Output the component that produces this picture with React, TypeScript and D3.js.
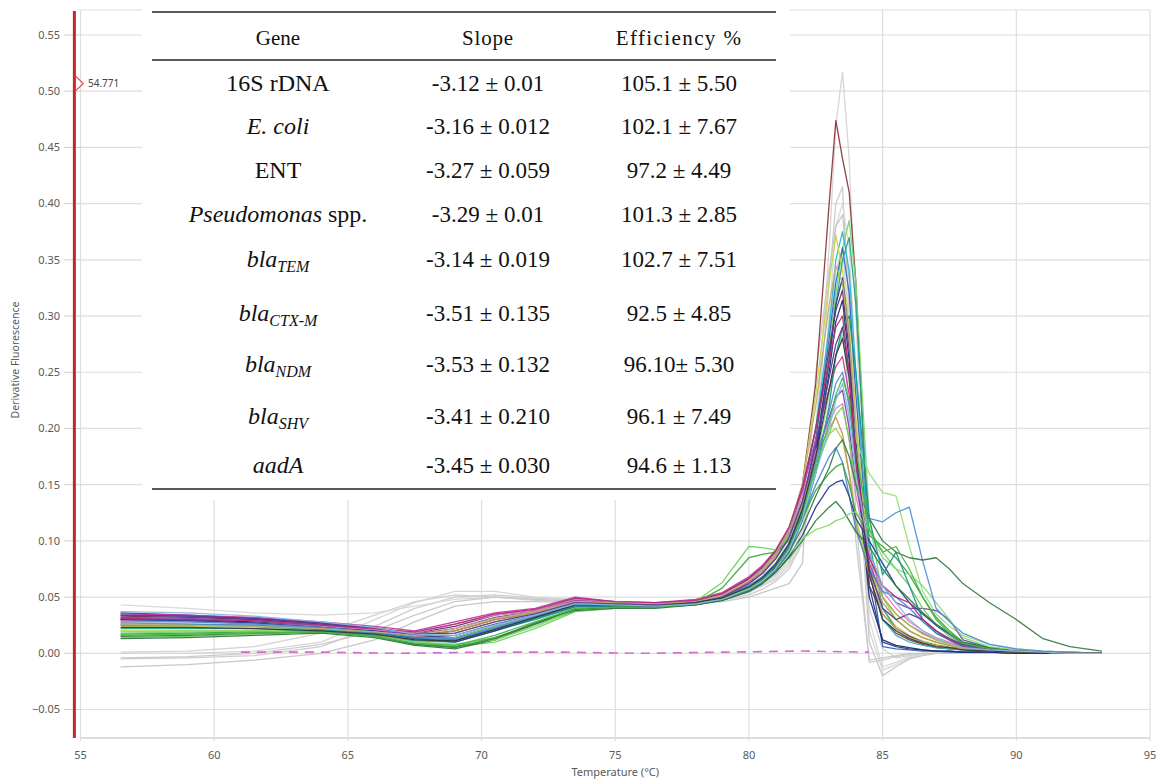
import React, { useEffect } from "react";
import * as d3 from "d3";

// Melt-curve temperatures (°C) shared by every trace
const TEMPS = [56.5, 59, 61.5, 64, 66, 67.5, 69, 70.5, 72, 73.5, 75, 76.5, 78, 79, 80, 80.5, 81, 81.5, 82, 82.5, 83, 83.25, 83.5, 83.75, 84, 84.5, 85, 85.5, 86, 86.5, 87, 87.5, 88, 89, 90, 91, 92, 93.2];

// Derivative fluorescence per well (-dF/dT)
const WELLS: { color: string; v: number[] }[] = [
  { color: "#d4d4d4", v: [0.000,0.000,0.002,0.010,0.030,0.045,0.055,0.055,0.050,0.048,0.046,0.045,0.046,0.050, 0.058,0.064,0.072,0.086,0.120,0.200, 0.360,0.470,0.517,0.440,0.300, 0.020,-0.015,-0.010,-0.004,-0.001,0,0,0,0,0,0,0,0] },
  { color: "#cacaca", v: [-0.005,-0.004,-0.002,0.006,0.024,0.040,0.050,0.052,0.049,0.047,0.045,0.044,0.045,0.049, 0.056,0.062,0.070,0.082,0.110,0.190, 0.330,0.400,0.415,0.300,0.120, -0.008,-0.006,-0.003,-0.001,0,0,0,0,0,0,0,0,0] },
  { color: "#d8d8d8", v: [0.043,0.040,0.036,0.034,0.036,0.042,0.048,0.050,0.048,0.046,0.045,0.044,0.045,0.048, 0.055,0.060,0.068,0.080,0.105,0.170, 0.300,0.380,0.400,0.360,0.250, 0.030,-0.012,-0.008,-0.003,-0.001,0,0,0,0,0,0,0,0] },
  { color: "#c4c4c4", v: [-0.012,-0.010,-0.006,0.000,0.012,0.028,0.042,0.046,0.046,0.045,0.044,0.043,0.044,0.046, 0.050,0.054,0.058,0.062,0.080,0.250, 0.340,0.380,0.390,0.330,0.200, 0.010,-0.020,-0.012,-0.005,-0.002,0,0,0,0,0,0,0,0] },
  { color: "#d0d0d0", v: [0.001,0.002,0.006,0.018,0.034,0.046,0.052,0.050,0.047,0.046,0.045,0.044,0.045,0.048, 0.054,0.060,0.066,0.078,0.100,0.180, 0.290,0.340,0.360,0.290,0.160, 0.040,0.004,-0.004,-0.002,0,0,0,0,0,0,0,0,0] },
  { color: "#c8c8c8", v: [-0.004,-0.003,0.000,0.008,0.020,0.034,0.046,0.050,0.048,0.046,0.045,0.044,0.044,0.047, 0.052,0.057,0.064,0.075,0.098,0.170, 0.270,0.320,0.330,0.200,0.100, -0.006,-0.004,-0.002,0,0,0,0,0,0,0,0,0,0] },

  { color: "#8c3b3b", v: [0.030,0.029,0.027,0.024,0.020,0.016,0.020,0.030,0.036,0.046,0.044,0.043,0.046,0.052, 0.064,0.074,0.088,0.108,0.150,0.240, 0.400,0.474,0.440,0.410,0.330, 0.070,0.030,0.018,0.012,0.008,0.005,0.004,0.003,0.002,0.001,0.001,0.001,0.000] },
  { color: "#7dd66a", v: [0.018,0.019,0.020,0.020,0.016,0.010,0.008,0.014,0.026,0.040,0.042,0.042,0.044,0.049, 0.058,0.066,0.078,0.096,0.130,0.190, 0.270,0.320,0.360,0.385,0.330, 0.120,0.050,0.030,0.020,0.014,0.010,0.007,0.005,0.003,0.002,0.001,0.001,0.000] },
  { color: "#2fb6d0", v: [0.030,0.029,0.027,0.023,0.019,0.014,0.014,0.024,0.034,0.044,0.043,0.042,0.045,0.050, 0.062,0.072,0.086,0.106,0.140,0.200, 0.290,0.350,0.375,0.340,0.250, 0.090,0.030,0.016,0.010,0.007,0.005,0.004,0.003,0.002,0.001,0.001,0.000,0.000] },
  { color: "#3266b8", v: [0.034,0.033,0.030,0.026,0.021,0.015,0.016,0.026,0.034,0.044,0.043,0.042,0.045,0.050, 0.060,0.068,0.080,0.098,0.130,0.190, 0.280,0.330,0.361,0.320,0.230, 0.080,0.006,0.004,0.003,0.002,0.002,0.001,0.001,0.001,0.000,0.000,0.000,0.000] },
  { color: "#c9d34a", v: [0.024,0.024,0.023,0.021,0.018,0.014,0.018,0.028,0.036,0.045,0.044,0.043,0.046,0.052, 0.066,0.076,0.090,0.112,0.150,0.230, 0.330,0.372,0.340,0.290,0.210, 0.080,0.040,0.024,0.016,0.011,0.008,0.006,0.004,0.002,0.001,0.001,0.000,0.000] },
  { color: "#22a38c", v: [0.022,0.022,0.022,0.020,0.016,0.011,0.010,0.020,0.030,0.041,0.042,0.041,0.044,0.048, 0.057,0.065,0.076,0.094,0.125,0.180, 0.260,0.310,0.350,0.370,0.310, 0.100,0.040,0.022,0.015,0.010,0.007,0.005,0.004,0.002,0.001,0.001,0.000,0.000] },
  { color: "#2b3a8c", v: [0.036,0.034,0.031,0.027,0.022,0.016,0.014,0.024,0.033,0.043,0.043,0.042,0.044,0.049, 0.058,0.066,0.078,0.096,0.126,0.180, 0.260,0.310,0.334,0.280,0.190, 0.060,0.010,0.006,0.004,0.003,0.002,0.002,0.001,0.001,0.000,0.000,0.000,0.000] },
  { color: "#6e2f6a", v: [0.033,0.032,0.030,0.026,0.022,0.018,0.024,0.034,0.038,0.048,0.045,0.044,0.047,0.053, 0.066,0.076,0.090,0.110,0.145,0.200, 0.270,0.305,0.323,0.270,0.180, 0.060,0.035,0.022,0.015,0.010,0.007,0.005,0.004,0.002,0.001,0.001,0.000,0.000] },
  { color: "#1f2f70", v: [0.031,0.030,0.028,0.024,0.020,0.014,0.012,0.022,0.032,0.043,0.042,0.042,0.044,0.049, 0.058,0.066,0.077,0.094,0.122,0.175, 0.250,0.295,0.314,0.260,0.170, 0.050,0.012,0.007,0.005,0.003,0.002,0.002,0.001,0.001,0.000,0.000,0.000,0.000] },
  { color: "#96e07e", v: [0.016,0.017,0.018,0.019,0.015,0.009,0.007,0.012,0.024,0.038,0.041,0.041,0.043,0.048, 0.056,0.064,0.075,0.092,0.120,0.170, 0.230,0.265,0.283,0.240,0.190, 0.160,0.143,0.140,0.095,0.055,0.035,0.024,0.016,0.008,0.004,0.002,0.001,0.000] },
  { color: "#c8389e", v: [0.035,0.034,0.032,0.028,0.024,0.020,0.028,0.036,0.040,0.050,0.046,0.045,0.048,0.054, 0.068,0.078,0.092,0.112,0.145,0.190, 0.235,0.255,0.264,0.230,0.170, 0.080,0.050,0.035,0.025,0.018,0.012,0.009,0.006,0.003,0.002,0.001,0.000,0.000] },
  { color: "#7b45a8", v: [0.032,0.031,0.029,0.025,0.021,0.017,0.022,0.032,0.037,0.047,0.045,0.044,0.046,0.051, 0.063,0.072,0.085,0.104,0.135,0.175, 0.210,0.228,0.234,0.200,0.150, 0.090,0.060,0.045,0.040,0.040,0.038,0.030,0.012,0.005,0.002,0.001,0.000,0.000] },
  { color: "#e27cc6", v: [0.029,0.028,0.027,0.024,0.021,0.018,0.026,0.034,0.038,0.048,0.046,0.044,0.047,0.052, 0.064,0.074,0.088,0.108,0.140,0.180, 0.205,0.218,0.222,0.190,0.140, 0.085,0.055,0.040,0.028,0.020,0.014,0.010,0.006,0.003,0.002,0.001,0.000,0.000] },
  { color: "#6fd35c", v: [0.014,0.015,0.017,0.019,0.015,0.009,0.006,0.010,0.022,0.037,0.040,0.041,0.046,0.063, 0.095,0.094,0.092,0.105,0.130,0.165, 0.195,0.212,0.219,0.190,0.150, 0.110,0.090,0.075,0.060,0.040,0.025,0.015,0.008,0.004,0.002,0.001,0.000,0.000] },
  { color: "#a8cf3c", v: [0.020,0.020,0.020,0.019,0.016,0.012,0.014,0.024,0.033,0.043,0.043,0.042,0.045,0.050, 0.062,0.072,0.086,0.104,0.135,0.170, 0.195,0.200,0.190,0.160,0.120, 0.075,0.050,0.035,0.025,0.017,0.012,0.008,0.005,0.003,0.002,0.001,0.000,0.000] },
  { color: "#c09060", v: [0.027,0.026,0.025,0.022,0.019,0.015,0.020,0.030,0.036,0.046,0.044,0.043,0.046,0.051, 0.062,0.071,0.084,0.102,0.132,0.175, 0.200,0.210,0.195,0.160,0.115, 0.070,0.045,0.030,0.020,0.014,0.010,0.007,0.005,0.003,0.002,0.001,0.000,0.000] },
  { color: "#4a86d0", v: [0.026,0.026,0.025,0.022,0.018,0.013,0.012,0.022,0.032,0.043,0.042,0.042,0.044,0.048, 0.058,0.066,0.078,0.094,0.120,0.150, 0.175,0.183,0.170,0.140,0.110, 0.075,0.055,0.050,0.040,0.028,0.018,0.012,0.006,0.003,0.002,0.001,0.000,0.000] },
  { color: "#3aa83a", v: [0.017,0.018,0.019,0.020,0.016,0.008,0.006,0.014,0.026,0.039,0.041,0.041,0.045,0.058, 0.085,0.088,0.090,0.100,0.120,0.145, 0.160,0.166,0.169,0.150,0.125, 0.105,0.095,0.085,0.070,0.050,0.032,0.020,0.010,0.005,0.002,0.001,0.000,0.000] },
  { color: "#283c96", v: [0.030,0.029,0.027,0.023,0.019,0.013,0.010,0.020,0.031,0.042,0.042,0.041,0.043,0.047, 0.055,0.062,0.072,0.086,0.105,0.130, 0.148,0.152,0.154,0.140,0.120, 0.100,0.080,0.060,0.045,0.035,0.025,0.017,0.009,0.004,0.002,0.001,0.000,0.000] },
  { color: "#2d7d3c", v: [0.013,0.014,0.016,0.018,0.014,0.007,0.004,0.012,0.026,0.038,0.040,0.040,0.043,0.047, 0.055,0.062,0.072,0.085,0.100,0.118, 0.130,0.135,0.128,0.118,0.108, 0.095,0.075,0.060,0.048,0.036,0.026,0.018,0.010,0.005,0.002,0.001,0.000,0.000] },
  { color: "#8ad878", v: [0.019,0.020,0.020,0.019,0.015,0.010,0.008,0.012,0.024,0.039,0.041,0.041,0.044,0.049, 0.057,0.064,0.074,0.088,0.102,0.110, 0.114,0.118,0.120,0.124,0.126, 0.110,0.085,0.075,0.070,0.060,0.045,0.030,0.014,0.006,0.003,0.001,0.000,0.000] },
  { color: "#17958c", v: [0.025,0.025,0.024,0.021,0.017,0.012,0.011,0.021,0.031,0.042,0.042,0.041,0.044,0.048, 0.056,0.064,0.074,0.090,0.118,0.160, 0.220,0.265,0.290,0.300,0.250, 0.120,0.070,0.090,0.060,0.030,0.018,0.012,0.007,0.003,0.002,0.001,0.000,0.000] },
  { color: "#4f8fd8", v: [0.028,0.028,0.026,0.023,0.019,0.014,0.013,0.023,0.033,0.043,0.043,0.042,0.045,0.049, 0.060,0.068,0.080,0.098,0.128,0.170, 0.215,0.240,0.250,0.220,0.170, 0.120,0.117,0.125,0.130,0.082,0.040,0.028,0.018,0.008,0.004,0.002,0.001,0.000] },
  { color: "#3b7d45", v: [0.015,0.016,0.018,0.019,0.015,0.008,0.005,0.013,0.027,0.039,0.041,0.041,0.044,0.048, 0.056,0.063,0.074,0.090,0.112,0.140, 0.165,0.182,0.190,0.175,0.150, 0.120,0.100,0.090,0.085,0.083,0.085,0.075,0.062,0.045,0.030,0.013,0.006,0.002] },
  { color: "#bdb07a", v: [0.026,0.025,0.024,0.022,0.019,0.016,0.022,0.031,0.037,0.046,0.045,0.044,0.046,0.051, 0.065,0.075,0.089,0.110,0.150,0.220, 0.310,0.345,0.330,0.280,0.200, 0.070,0.035,0.022,0.014,0.010,0.007,0.005,0.004,0.002,0.001,0.001,0.000,0.000] },
  { color: "#5a3a9a", v: [0.034,0.033,0.031,0.027,0.023,0.017,0.018,0.028,0.035,0.045,0.044,0.043,0.045,0.050, 0.062,0.071,0.084,0.103,0.135,0.185, 0.245,0.275,0.290,0.250,0.180, 0.075,0.040,0.030,0.035,0.030,0.020,0.013,0.008,0.004,0.002,0.001,0.000,0.000] },
  { color: "#48b848", v: [0.016,0.017,0.018,0.019,0.015,0.009,0.007,0.016,0.028,0.040,0.041,0.041,0.044,0.049, 0.058,0.066,0.078,0.096,0.125,0.165, 0.205,0.230,0.245,0.225,0.180, 0.110,0.090,0.095,0.075,0.050,0.030,0.018,0.009,0.004,0.002,0.001,0.000,0.000] },
  { color: "#3a3a3a", v: [0.023,0.023,0.022,0.020,0.017,0.012,0.011,0.021,0.032,0.043,0.043,0.042,0.045,0.049, 0.059,0.067,0.079,0.097,0.128,0.175, 0.235,0.265,0.280,0.245,0.175, 0.070,0.030,0.020,0.013,0.009,0.006,0.005,0.003,0.002,0.001,0.001,0.000,0.000] },
  { color: "#b0307a", v: [0.031,0.030,0.029,0.025,0.022,0.019,0.026,0.035,0.039,0.049,0.046,0.045,0.047,0.053, 0.067,0.077,0.091,0.112,0.148,0.200, 0.260,0.290,0.300,0.250,0.170, 0.085,0.060,0.050,0.045,0.030,0.020,0.012,0.006,0.003,0.002,0.001,0.000,0.000] },
  { color: "#86b8e4", v: [0.037,0.036,0.033,0.028,0.023,0.017,0.016,0.025,0.034,0.044,0.043,0.042,0.044,0.048, 0.057,0.064,0.075,0.092,0.120,0.160, 0.200,0.225,0.240,0.210,0.160, 0.090,0.060,0.045,0.030,0.020,0.013,0.009,0.005,0.003,0.002,0.001,0.000,0.000] },
];

// No-template control trace
const NTC_TEMPS = [61, 64, 67, 70, 73, 76, 79, 82, 84.5];
const NTC_VALUES = [0.001, 0.001, 0.000, 0.001, 0.001, 0.000, 0.001, 0.002, 0.001];

const X_TICKS = [55, 60, 65, 70, 75, 80, 85, 90, 95];
const Y_TICKS = [-0.05, 0, 0.05, 0.1, 0.15, 0.2, 0.25, 0.3, 0.35, 0.4, 0.45, 0.5, 0.55];
const MARKER_TEMP = 54.771;

// Standard-curve table
const GENE_NAMES: { main: string; sub?: string; italic: boolean; tail?: string }[] = [
  { main: "16S rDNA", italic: false },
  { main: "E. coli", italic: true },
  { main: "ENT", italic: false },
  { main: "Pseudomonas", italic: true, tail: " spp." },
  { main: "bla", sub: "TEM", italic: true },
  { main: "bla", sub: "CTX-M", italic: true },
  { main: "bla", sub: "NDM", italic: true },
  { main: "bla", sub: "SHV", italic: true },
  { main: "aadA", italic: true },
];
const SLOPES = ["-3.12 ± 0.01", "-3.16 ± 0.012", "-3.27 ± 0.059", "-3.29 ± 0.01", "-3.14 ± 0.019", "-3.51 ± 0.135", "-3.53 ± 0.132", "-3.41 ± 0.210", "-3.45 ± 0.030"];
const EFFICIENCIES = ["105.1 ± 5.50", "102.1 ± 7.67", "97.2 ± 4.49", "101.3 ± 2.85", "102.7 ± 7.51", "92.5 ± 4.85", "96.10± 5.30", "96.1 ± 7.49", "94.6 ± 1.13"];
const ROW_BASELINES = [91, 134, 178, 222, 267, 321, 372, 424, 473];

const W = 1158;
const H = 782;

export default function App() {
  useEffect(() => {
    document.body.style.margin = "0";
  }, []);

  const x = d3.scaleLinear().domain([55, 95]).range([80.5, 1150]);
  const y = d3.scaleLinear().domain([-0.05, 0.55]).range([709.5, 35]);
  const plotTop = 10;
  const plotBottom = 738;

  const line = d3
    .line<[number, number]>()
    .x((d) => x(d[0]))
    .y((d) => y(d[1]))
    .curve(d3.curveLinear);

  const axisFont = "'Noto Sans', 'DejaVu Sans', sans-serif";
  const serif = "'Liberation Serif', 'Times New Roman', serif";
  const grid = "#dedede";

  const colGene = 278;
  const colSlope = 488;
  const colEff = 679;

  return (
    <svg width={W} height={H} style={{ position: "absolute", left: 0, top: 0, background: "#fff" }}>
      <rect x={0} y={0} width={W} height={H} fill="#fff" />

      {/* gridlines */}
      {Y_TICKS.map((t) => (
        <line key={"gy" + t} x1={x(55)} x2={x(95)} y1={y(t)} y2={y(t)} stroke={grid} strokeWidth={1.2} />
      ))}
      <line x1={x(55)} x2={x(95)} y1={plotTop} y2={plotTop} stroke={grid} strokeWidth={1.2} />
      <line x1={x(55)} x2={x(95)} y1={plotBottom} y2={plotBottom} stroke="#d2d2d2" strokeWidth={1.5} />
      {X_TICKS.map((t) => (
        <line key={"gx" + t} x1={x(t)} x2={x(t)} y1={plotTop} y2={plotBottom + 3} stroke={grid} strokeWidth={1.2} />
      ))}

      {/* y ticks and labels */}
      {Y_TICKS.map((t) => (
        <g key={"yt" + t}>
          <line x1={64} x2={x(55)} y1={y(t)} y2={y(t)} stroke="#cfcfcf" strokeWidth={1} />
          <text x={60} y={y(t)} dy="0.35em" textAnchor="end" fontFamily={axisFont} fontSize={11} fill="#5a5a5a">
            {d3.format(".2f")(t)}
          </text>
        </g>
      ))}
      {X_TICKS.map((t) => (
        <text key={"xt" + t} x={x(t)} y={759} textAnchor="middle" fontFamily={axisFont} fontSize={11} fill="#5a5a5a">
          {t}
        </text>
      ))}
      <text x={x(75)} y={776} textAnchor="middle" fontFamily={axisFont} fontSize={11} fill="#5a5a5a">
        Temperature (°C)
      </text>
      <text
        transform={`translate(19,360) rotate(-90)`}
        textAnchor="middle"
        fontFamily={axisFont}
        fontSize={10.5}
        fill="#5a5a5a"
      >
        Derivative Fluorescence
      </text>

      {/* melt curves */}
      <g fill="none" strokeLinejoin="round">
        {WELLS.map((w, i) => (
          <path
            key={"w" + i}
            d={line(TEMPS.map((t, j) => [t, w.v[j]] as [number, number])) || ""}
            stroke={w.color}
            strokeWidth={1.3}
            opacity={0.95}
          />
        ))}
        <path
          d={line(NTC_TEMPS.map((t, j) => [t, NTC_VALUES[j]] as [number, number])) || ""}
          stroke="#d66ad0"
          strokeWidth={1.6}
          strokeDasharray="9 7"
        />
      </g>

      {/* table panel */}
      <rect x={142} y={0} width={648} height={500} fill="#fff" />
      <g fontFamily={serif} fill="#111">
        <line x1={152} x2={776} y1={12} y2={12} stroke="#222" strokeWidth={1.6} />
        <line x1={152} x2={776} y1={60} y2={60} stroke="#222" strokeWidth={1.6} />
        <line x1={152} x2={776} y1={489} y2={489} stroke="#222" strokeWidth={1.6} />
        <text x={colGene} y={45} textAnchor="middle" fontSize={21}>Gene</text>
        <text x={colSlope} y={45} textAnchor="middle" fontSize={21} letterSpacing={0.8}>Slope</text>
        <text x={colEff} y={45} textAnchor="middle" fontSize={21} letterSpacing={1.4}>Efficiency %</text>
        {GENE_NAMES.map((g, i) => (
          <g key={"row" + i}>
            <text x={colGene} y={ROW_BASELINES[i]} textAnchor="middle" fontSize={24}>
              <tspan fontStyle={g.italic ? "italic" : "normal"}>{g.main}</tspan>
              {g.sub ? (
                <tspan fontStyle="italic" fontSize={16} dy={5}>{g.sub}</tspan>
              ) : null}
              {g.tail ? <tspan fontStyle="normal">{g.tail}</tspan> : null}
            </text>
            <text x={colSlope} y={ROW_BASELINES[i]} textAnchor="middle" fontSize={23}>{SLOPES[i]}</text>
            <text x={colEff} y={ROW_BASELINES[i]} textAnchor="middle" fontSize={23}>{EFFICIENCIES[i]}</text>
          </g>
        ))}
      </g>

      {/* temperature cursor */}
      <line x1={x(MARKER_TEMP)} x2={x(MARKER_TEMP)} y1={11} y2={plotBottom} stroke="#c8262c" strokeWidth={3} />
      <path
        d={`M${x(MARKER_TEMP) + 1},76 L${x(MARKER_TEMP) + 9},83.5 L${x(MARKER_TEMP) + 1},91`}
        fill="none"
        stroke="#d9534f"
        strokeWidth={1.1}
      />
      <text x={88} y={83} dy="0.35em" fontFamily={axisFont} fontSize={10} fill="#444">
        {MARKER_TEMP.toFixed(3)}
      </text>
    </svg>
  );
}
